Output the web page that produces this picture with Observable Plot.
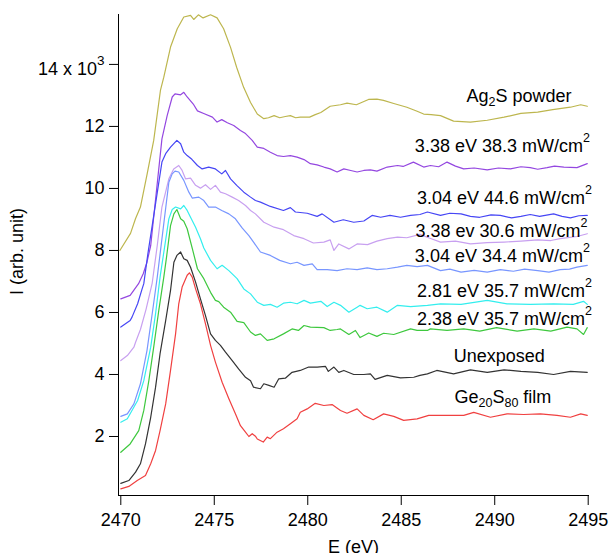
<!DOCTYPE html>
<html><head><meta charset="utf-8">
<script src="https://cdn.jsdelivr.net/npm/d3@7"></script>
<script src="https://cdn.jsdelivr.net/npm/@observablehq/plot@0.6"></script>
<style>html,body{margin:0;padding:0;background:#fff;overflow:hidden}</style>
</head><body><div id="chart"></div>
<script>
// ---- data (E in eV, I in units of 10^3) ----
const xTicks = [2470, 2475, 2480, 2485, 2490, 2495];
const yTicks = [2, 4, 6, 8, 10, 12, 14];

const seriesNames = ["Ag2S powder", "3.38 eV 38.3", "3.04 eV 44.6", "3.38 ev 30.6", "3.04 eV 34.4", "2.81 eV 35.7", "2.38 eV 35.7", "Unexposed", "Ge20S80 film"];
const labelTexts = ["Ag_{2}S powder", "3.38 eV 38.3 mW/cm^{2}", "3.04 eV 44.6 mW/cm^{2}", "3.38 ev 30.6 mW/cm^{2}", "3.04 eV 34.4 mW/cm^{2}", "2.81 eV 35.7 mW/cm^{2}", "2.38 eV 35.7 mW/cm^{2}", "Unexposed", "Ge_{20}S_{80} film"];

const ag2sPowder = [[2469.95,8.0],[2470.52,8.55],[2470.79,9.03],[2471.05,9.4],[2471.41,10.47],[2471.76,11.55],[2472.12,13.16],[2472.3,13.59],[2472.66,14.56],[2473.02,15.15],[2473.37,15.53],[2473.73,15.58],[2473.9,15.45],[2474.15,15.6],[2474.4,15.5],[2474.8,15.6],[2475.15,15.5],[2475.5,15.15],[2475.87,14.55],[2476.2,13.9],[2476.57,13.26],[2476.94,12.77],[2477.3,12.4],[2477.65,12.25],[2477.9,12.28],[2478.2,12.35],[2478.5,12.28],[2478.8,12.32],[2479.07,12.35],[2479.35,12.28],[2479.6,12.3],[2480.1,12.3],[2480.4,12.38],[2480.7,12.45],[2481.2,12.65],[2481.75,12.7],[2482.1,12.75],[2482.6,12.7],[2483.25,12.87],[2483.7,12.88],[2484.05,12.84],[2484.6,12.74],[2485.3,12.62],[2485.85,12.49],[2486.2,12.4],[2486.6,12.38],[2487.1,12.35],[2487.8,12.17],[2488.7,12.14],[2489.6,12.2],[2490.5,12.3],[2491.4,12.42],[2492.3,12.46],[2493.1,12.54],[2494.05,12.62],[2494.6,12.7],[2494.95,12.65]];

const v338p383 = [[2470.0,6.44],[2470.5,6.55],[2470.95,6.93],[2471.2,7.25],[2471.4,7.62],[2471.6,8.16],[2472.2,11.6],[2472.48,12.35],[2472.75,12.95],[2472.9,13.05],[2473.2,13.02],[2473.37,13.1],[2473.55,12.95],[2473.9,12.7],[2474.1,12.5],[2474.5,12.4],[2474.9,12.3],[2475.15,12.14],[2475.4,12.22],[2475.7,12.12],[2476.04,12.03],[2476.4,11.87],[2476.67,11.77],[2477.03,11.55],[2477.3,11.33],[2477.65,11.29],[2478.0,11.17],[2478.36,11.06],[2478.7,11.03],[2479.07,11.06],[2479.43,11.01],[2479.8,10.93],[2480.14,10.8],[2480.5,10.76],[2480.86,10.69],[2481.2,10.63],[2481.57,10.53],[2481.93,10.63],[2482.3,10.58],[2482.64,10.53],[2483.0,10.58],[2483.35,10.6],[2483.7,10.56],[2484.25,10.69],[2484.8,10.74],[2485.1,10.71],[2485.65,10.85],[2486.2,10.69],[2486.56,10.74],[2487.0,10.7],[2487.45,10.85],[2487.9,10.72],[2488.34,10.63],[2488.9,10.66],[2489.6,10.6],[2490.2,10.66],[2490.84,10.63],[2491.4,10.7],[2491.9,10.67],[2492.3,10.62],[2492.8,10.67],[2493.2,10.72],[2493.7,10.69],[2494.4,10.67],[2494.95,10.8]];

const v304p446 = [[2470.0,5.53],[2470.5,5.74],[2470.6,5.85],[2470.9,6.28],[2471.14,6.76],[2471.23,6.93],[2471.45,7.9],[2472.2,10.85],[2472.4,11.12],[2472.66,11.33],[2473.0,11.55],[2473.2,11.44],[2473.37,11.17],[2473.55,11.06],[2473.8,10.94],[2474.1,10.74],[2474.35,10.63],[2474.7,10.69],[2475.06,10.63],[2475.4,10.47],[2475.6,10.58],[2475.87,10.31],[2476.2,10.1],[2476.58,9.88],[2476.94,9.72],[2477.2,9.61],[2477.47,9.56],[2478.0,9.42],[2478.7,9.29],[2479.07,9.38],[2479.34,9.24],[2479.97,9.2],[2480.5,9.1],[2480.77,9.18],[2481.4,8.91],[2481.9,8.99],[2482.46,8.91],[2483.0,8.95],[2483.44,9.13],[2483.9,9.07],[2484.4,9.13],[2484.96,9.07],[2485.5,9.13],[2486.0,9.16],[2486.4,9.24],[2487.1,9.13],[2487.6,9.2],[2488.2,9.18],[2488.7,9.1],[2489.2,9.07],[2489.8,9.15],[2490.3,9.13],[2490.9,9.05],[2491.4,9.1],[2491.9,9.16],[2492.4,9.1],[2493.15,9.18],[2493.6,9.1],[2494.05,9.05],[2494.5,9.12],[2494.95,9.13]];

const v338p306 = [[2470.0,4.45],[2470.35,4.61],[2470.7,4.88],[2470.79,5.04],[2471.05,5.45],[2471.35,6.1],[2471.68,6.95],[2471.95,8.16],[2472.2,9.4],[2472.57,10.31],[2472.83,10.63],[2473.1,10.74],[2473.28,10.58],[2473.46,10.31],[2473.73,10.33],[2474.0,10.1],[2474.26,10.01],[2474.53,10.12],[2474.8,9.97],[2475.06,10.1],[2475.33,9.88],[2475.6,9.83],[2475.96,9.72],[2476.3,9.61],[2476.67,9.45],[2476.94,9.29],[2477.2,9.18],[2477.65,8.91],[2478.2,8.75],[2478.7,8.67],[2479.25,8.48],[2479.8,8.38],[2480.3,8.24],[2480.86,8.27],[2481.2,8.34],[2481.4,8.0],[2481.66,8.21],[2482.2,8.05],[2482.64,8.21],[2483.2,8.19],[2483.7,8.3],[2484.25,8.38],[2484.8,8.43],[2485.3,8.41],[2486.0,8.52],[2486.5,8.4],[2487.1,8.27],[2487.9,8.3],[2488.7,8.21],[2489.6,8.25],[2490.5,8.27],[2491.4,8.3],[2492.3,8.34],[2493.0,8.32],[2493.5,8.38],[2494.4,8.45],[2494.95,8.54]];

const v304p344 = [[2470.0,2.65],[2470.35,2.73],[2470.7,3.05],[2471.05,3.7],[2471.4,4.77],[2471.68,5.96],[2471.95,7.14],[2472.57,10.2],[2472.75,10.47],[2472.9,10.56],[2473.1,10.53],[2473.37,10.26],[2473.64,9.88],[2473.82,9.69],[2474.17,9.72],[2474.44,9.61],[2474.7,9.4],[2475.06,9.4],[2475.4,9.29],[2475.78,9.18],[2476.13,9.02],[2476.5,8.72],[2476.85,8.48],[2477.1,8.27],[2477.47,7.95],[2478.0,7.84],[2478.5,7.68],[2479.07,7.57],[2479.43,7.62],[2479.8,7.52],[2480.24,7.57],[2480.5,7.38],[2481.04,7.38],[2481.57,7.35],[2482.1,7.41],[2482.64,7.38],[2483.18,7.44],[2483.7,7.38],[2484.25,7.41],[2484.8,7.46],[2485.3,7.52],[2485.85,7.48],[2486.4,7.52],[2487.1,7.35],[2487.6,7.4],[2488.2,7.3],[2488.9,7.36],[2489.6,7.3],[2490.3,7.38],[2491.0,7.33],[2491.6,7.4],[2492.3,7.35],[2492.9,7.3],[2493.5,7.38],[2494.0,7.4],[2494.4,7.46],[2494.95,7.52]];

const v281p357 = [[2470.0,2.46],[2470.35,2.57],[2470.9,3.16],[2471.23,3.8],[2471.6,4.88],[2471.86,5.96],[2472.1,7.14],[2472.57,9.02],[2472.75,9.32],[2472.93,9.4],[2473.2,9.34],[2473.37,9.45],[2473.55,9.29],[2473.73,9.07],[2474.0,8.75],[2474.26,8.38],[2474.44,8.08],[2474.8,7.68],[2475.15,7.41],[2475.42,7.52],[2475.78,7.35],[2476.22,7.09],[2476.58,6.76],[2476.94,6.6],[2477.3,6.33],[2477.65,6.23],[2478.0,6.26],[2478.36,6.17],[2478.7,6.3],[2479.07,6.33],[2479.43,6.28],[2479.8,6.39],[2480.14,6.3],[2480.7,6.36],[2481.04,6.19],[2481.4,6.33],[2481.75,6.23],[2482.2,6.01],[2482.64,6.17],[2482.8,6.23],[2483.18,6.12],[2483.7,6.17],[2484.25,6.01],[2484.8,6.23],[2485.5,6.19],[2486.4,6.23],[2487.1,6.28],[2488.2,6.26],[2489.6,6.39],[2490.66,6.28],[2491.9,6.26],[2493.15,6.28],[2494.2,6.26],[2494.75,6.36],[2494.95,6.26]];

const v238p357 = [[2470.0,1.49],[2470.5,1.76],[2470.96,2.19],[2471.23,2.84],[2471.5,3.8],[2471.76,4.88],[2472.03,6.06],[2472.3,7.14],[2472.45,7.8],[2472.66,8.8],[2472.84,9.18],[2473.0,9.32],[2473.2,9.02],[2473.37,8.94],[2473.55,8.7],[2473.85,8.0],[2474.1,7.41],[2474.44,7.09],[2474.8,6.65],[2475.06,6.39],[2475.24,6.35],[2475.5,6.17],[2475.87,6.01],[2476.22,5.71],[2476.58,5.67],[2476.94,5.37],[2477.2,5.26],[2477.47,5.31],[2477.83,5.1],[2478.2,5.15],[2478.7,5.31],[2479.16,5.47],[2479.5,5.42],[2479.8,5.58],[2480.14,5.53],[2480.86,5.51],[2481.2,5.42],[2481.57,5.45],[2481.75,5.47],[2482.2,5.29],[2482.55,5.42],[2482.8,5.19],[2483.26,5.34],[2483.7,5.23],[2484.06,5.33],[2484.6,5.29],[2485.5,5.47],[2485.85,5.42],[2486.4,5.42],[2486.56,5.47],[2487.45,5.42],[2488.34,5.47],[2489.2,5.4],[2490.1,5.51],[2491.2,5.4],[2492.1,5.47],[2493.0,5.4],[2493.87,5.53],[2494.4,5.47],[2494.75,5.29],[2494.95,5.51]];

const unexposed = [[2470.0,0.49],[2470.43,0.58],[2470.79,0.85],[2471.05,1.12],[2471.32,1.76],[2471.6,2.62],[2471.86,3.59],[2472.1,4.67],[2472.4,5.74],[2472.66,6.71],[2472.84,7.62],[2473.0,7.84],[2473.2,7.95],[2473.37,7.73],[2473.55,7.68],[2473.73,7.46],[2474.0,6.98],[2474.26,6.44],[2474.53,5.9],[2474.8,5.31],[2475.06,5.1],[2475.33,4.94],[2475.6,4.72],[2475.96,4.45],[2476.3,4.18],[2476.67,3.91],[2476.94,3.8],[2477.1,3.59],[2477.47,3.54],[2477.65,3.7],[2477.92,3.65],[2478.2,3.59],[2478.45,3.86],[2478.8,3.88],[2479.16,4.07],[2479.6,4.13],[2480.05,4.24],[2480.5,4.24],[2480.95,4.26],[2481.1,4.1],[2481.4,4.24],[2481.66,4.07],[2481.93,4.13],[2482.46,4.0],[2482.8,4.0],[2483.0,4.0],[2483.35,4.02],[2483.6,3.84],[2484.25,3.97],[2484.96,3.89],[2485.67,3.91],[2486.0,3.97],[2486.4,4.02],[2486.9,4.13],[2487.8,4.02],[2488.7,4.15],[2489.6,4.07],[2490.5,4.15],[2491.4,4.1],[2492.3,4.07],[2493.15,4.0],[2494.05,4.1],[2494.95,4.07]];

const ge20s80Film = [[2470.0,0.31],[2470.43,0.39],[2470.88,0.58],[2471.32,0.74],[2471.6,1.12],[2471.86,1.55],[2472.1,2.19],[2472.4,3.05],[2472.66,4.13],[2472.93,5.31],[2473.1,6.28],[2473.28,6.82],[2473.55,7.2],[2473.67,7.28],[2473.82,7.14],[2474.0,6.76],[2474.26,6.28],[2474.53,5.63],[2474.8,4.94],[2475.06,4.4],[2475.42,3.75],[2475.78,3.22],[2476.13,2.73],[2476.4,2.35],[2476.67,2.14],[2476.85,2.0],[2477.03,2.09],[2477.2,2.01],[2477.3,1.92],[2477.62,1.82],[2477.83,1.98],[2478.0,1.93],[2478.36,2.14],[2478.7,2.25],[2479.07,2.41],[2479.43,2.57],[2479.6,2.78],[2479.97,2.89],[2480.4,3.07],[2480.86,3.0],[2481.3,3.03],[2481.75,2.84],[2482.1,2.75],[2482.64,2.89],[2483.0,2.68],[2483.5,2.54],[2484.06,2.73],[2484.6,2.65],[2485.13,2.52],[2485.85,2.57],[2486.47,2.68],[2487.45,2.68],[2488.34,2.68],[2488.88,2.78],[2489.77,2.62],[2490.66,2.73],[2491.55,2.71],[2492.44,2.73],[2493.33,2.68],[2494.05,2.62],[2494.6,2.73],[2494.95,2.68]];

// ---- styling / layout (not data) ----
const colors = ["#bdb64e", "#9447e0", "#4646f5", "#c8a0f0", "#7896ff", "#33eeee", "#3ec83e", "#333333", "#f04040"];
const labelE = [2491.30, 2490.41, 2490.52, 2490.36, 2490.41, 2490.52, 2490.52, 2490.24, 2490.44];
const labelI = [12.97, 11.35, 9.68, 8.61, 7.81, 6.68, 5.77, 4.58, 3.26];

const curves = [ag2sPowder, v338p383, v304p446, v338p306, v304p344, v281p357, v238p357, unexposed, ge20s80Film];
const rows = curves.flatMap((c, i) => c.map(([E, I]) => ({E, I, s: seriesNames[i]})));
const plain = s => s.replace(/[_^]\{([^}]*)\}/g, "$1");

const FONT = '"Liberation Sans", Arial, Helvetica, sans-serif';

const chart = Plot.plot({
  width: 611, height: 553,
  marginLeft: 118, marginRight: 23, marginTop: 14, marginBottom: 58,
  style: {fontFamily: FONT, fontSize: "18px", background: "#fff", color: "#000"},
  x: {domain: [2469.877, 2495.016], ticks: xTicks, tickSize: 10, tickPadding: 8, tickFormat: d => String(d), line: true, label: null},
  y: {domain: [0.097, 15.61], ticks: yTicks, tickSize: 9, tickPadding: 5, tickFormat: d => d === 14 ? "14 x 10" : String(d), line: true, label: null},
  color: {domain: seriesNames, range: colors},
  marks: [
    Plot.line(rows, {x: "E", y: "I", z: "s", stroke: "s", strokeWidth: 1.2}),
    Plot.text(labelTexts, {x: (d, i) => labelE[i], y: (d, i) => labelI[i], text: d => plain(d), fontSize: 18, textAnchor: "middle", lineAnchor: "middle", fill: "#000"}),
    Plot.text(["E (eV)"], {frameAnchor: "bottom", dy: 52, text: d => d, fontSize: 18, textAnchor: "middle", lineAnchor: "middle", fill: "#000"}),
    Plot.text(["I (arb. unit)"], {frameAnchor: "left", rotate: -90, dx: -101, dy: -3.5, text: d => d, fontSize: 18, textAnchor: "middle", lineAnchor: "middle", fill: "#000"})
  ]
});

function richify(el, markup, o) {
  const opts = Object.assign({base: 0, sub: 4, sup: -10, small: 12.5}, o || {});
  const parts = markup.split(/([_^]\{[^}]*\})/).filter(s => s.length);
  while (el.firstChild) el.removeChild(el.firstChild);
  let cur = 0;
  parts.forEach(p => {
    const ts = document.createElementNS("http://www.w3.org/2000/svg", "tspan");
    let off = opts.base, txt = p, small = false;
    if (p.startsWith("_{")) { off = opts.base + opts.sub; txt = p.slice(2, -1); small = true; }
    else if (p.startsWith("^{")) { off = opts.base + opts.sup; txt = p.slice(2, -1); small = true; }
    if (off !== cur) ts.setAttribute("dy", off - cur);
    cur = off;
    if (small) ts.setAttribute("font-size", opts.small);
    ts.textContent = txt;
    el.appendChild(ts);
  });
}

const allText = Array.from(chart.querySelectorAll("text"));
labelTexts.forEach(m => {
  const el = allText.find(t => t.textContent === plain(m));
  if (el) richify(el, m);
});
allText.forEach(el => {
  if (el.textContent === "14 x 10") richify(el, "14 x 10^{3}", {base: 5, sup: -10, small: 13.5});
});

document.getElementById("chart").appendChild(chart);
</script>
</body></html>
